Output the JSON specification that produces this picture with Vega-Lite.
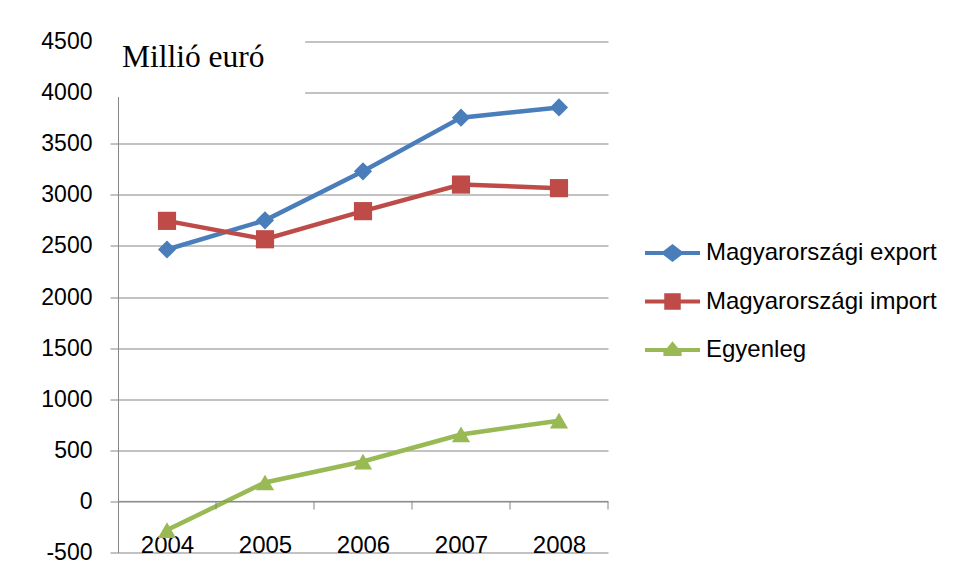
{
  "$schema": "https://vega.github.io/schema/vega-lite/v6.json",
  "width": 490,
  "height": 511,
  "autosize": "none",
  "padding": {"left": 118, "top": 41.5, "right": 349, "bottom": 28.5},
  "background": "white",
  "config": {
    "view": {"stroke": null},
    "font": "Liberation Sans",
    "axis": {"labelFont": "Liberation Sans", "labelFontSize": 23, "labelColor": "#000000", "domainColor": "#868686", "tickColor": "#868686", "gridColor": "#868686", "gridOpacity": 1}
  },
  "datasets": {
    "trade": [
      {"year": 2004, "series": "Magyarországi export", "value": 2465},
      {"year": 2005, "series": "Magyarországi export", "value": 2750},
      {"year": 2006, "series": "Magyarországi export", "value": 3230},
      {"year": 2007, "series": "Magyarországi export", "value": 3755},
      {"year": 2008, "series": "Magyarországi export", "value": 3855},
      {"year": 2004, "series": "Magyarországi import", "value": 2745},
      {"year": 2005, "series": "Magyarországi import", "value": 2565},
      {"year": 2006, "series": "Magyarországi import", "value": 2840},
      {"year": 2007, "series": "Magyarországi import", "value": 3100},
      {"year": 2008, "series": "Magyarországi import", "value": 3065},
      {"year": 2004, "series": "Egyenleg", "value": -280},
      {"year": 2005, "series": "Egyenleg", "value": 185},
      {"year": 2006, "series": "Egyenleg", "value": 390},
      {"year": 2007, "series": "Egyenleg", "value": 655},
      {"year": 2008, "series": "Egyenleg", "value": 790}
    ]
  },
  "resolve": {"axis": {"x": "independent", "y": "independent"}, "legend": {"color": "independent", "shape": "independent"}},
  "layer": [
    {
      "data": {"name": "trade"},
      "mark": {"type": "line", "strokeWidth": 4.5},
      "encoding": {
        "x": {
          "field": "year", "type": "quantitative",
          "scale": {"domain": [2003.5, 2008.5], "nice": false, "zero": false},
          "axis": {"title": null, "values": [2004, 2005, 2006, 2007, 2008], "format": "d", "grid": false, "domain": false, "ticks": false, "tickSize": 0, "labelPadding": 0, "labelBaseline": "alphabetic", "labelFontSize": 24}
        },
        "y": {
          "field": "value", "type": "quantitative",
          "scale": {"domain": [-500, 4500], "nice": false, "zero": false},
          "axis": {"title": null, "values": [-500, 0, 500, 1000, 1500, 2000, 2500, 3000, 3500, 4000, 4500], "labelExpr": "'' + datum.value", "domain": true, "tickSize": 8, "labelPadding": 18,
            "tickOpacity": {"condition": {"test": "datum.value >= 4000", "value": 0}, "value": 1}}
        },
        "color": {
          "field": "series", "type": "nominal",
          "sort": ["Magyarországi export", "Magyarországi import", "Egyenleg"],
          "scale": {"domain": ["Magyarországi export", "Magyarországi import", "Egyenleg"], "range": ["#4a7ebb", "#be4b48", "#98b954"]},
          "legend": {
            "title": null, "orient": "none", "legendX": 527, "legendY": 184,
            "labelFont": "Liberation Sans", "labelFontSize": 24, "labelColor": "#000000", "labelLimit": 400,
            "symbolSize": 3025, "symbolStrokeWidth": 0, "labelOffset": 6, "rowPadding": 8.5,
            "encode": {
              "symbols": {
                "update": {
                  "shape": {"signal": "datum.value === 'Magyarországi export' ? 'M-1,-0.075H-0.33L0,-0.33L0.33,-0.075H1V0.075H0.33L0,0.33L-0.33,0.075H-1Z' : datum.value === 'Magyarországi import' ? 'M-1,-0.075H-0.3V-0.3H0.3V-0.075H1V0.075H0.3V0.3H-0.3V0.075H-1Z' : 'M-1,-0.075H-0.2L0,-0.32L0.2,-0.075H1V0.075H0.33L0.33,0.075L0.33,0.22H-0.33V0.075H-1Z'"},
                  "fill": {"signal": "scale('color', datum.value)"},
                  "fillOpacity": {"value": 1},
                  "strokeWidth": {"value": 0}
                }
              }
            }
          }
        }
      }
    },
    {
      "data": {"name": "trade"},
      "mark": {"type": "point", "filled": true, "opacity": 1, "size": 330},
      "encoding": {
        "x": {"field": "year", "type": "quantitative", "axis": null},
        "y": {"field": "value", "type": "quantitative", "axis": null},
        "color": {"field": "series", "type": "nominal", "legend": null},
        "shape": {
          "field": "series", "type": "nominal",
          "scale": {"domain": ["Magyarországi export", "Magyarországi import", "Egyenleg"], "range": ["diamond", "square", "triangle-up"]},
          "legend": null
        }
      }
    },
    {
      "data": {"values": [{"label": "Millió euró"}]},
      "layer": [
        {
          "mark": {"type": "rect", "color": "white"},
          "encoding": {
            "x": {"datum": 2003.5, "type": "quantitative", "axis": null},
            "x2": {"datum": 2005.41},
            "y": {"datum": 3958, "type": "quantitative", "axis": null},
            "y2": {"datum": 4620}
          }
        },
        {
          "mark": {"type": "text", "font": "Liberation Serif", "fontSize": 31.5, "align": "left", "baseline": "alphabetic", "color": "#000000"},
          "encoding": {
            "x": {"datum": 2003.54, "type": "quantitative", "axis": null},
            "y": {"datum": 4250, "type": "quantitative", "axis": null},
            "text": {"field": "label"}
          }
        }
      ]
    },
    {
      "data": {"values": [{"b": 2004.5}, {"b": 2005.5}, {"b": 2006.5}, {"b": 2007.5}, {"b": 2008.5}]},
      "mark": {"type": "rule", "color": "#868686", "strokeWidth": 1},
      "encoding": {
        "x": {"field": "b", "type": "quantitative", "axis": null},
        "y": {"datum": 0, "type": "quantitative", "axis": null},
        "y2": {"datum": -80}
      }
    },
    {
      "data": {"values": [{"z": 0}]},
      "mark": {"type": "rule", "color": "#868686", "strokeWidth": 1},
      "encoding": {
        "x": {"datum": 2003.5, "type": "quantitative", "axis": null},
        "x2": {"datum": 2008.5},
        "y": {"field": "z", "type": "quantitative", "axis": null}
      }
    }
  ]
}
